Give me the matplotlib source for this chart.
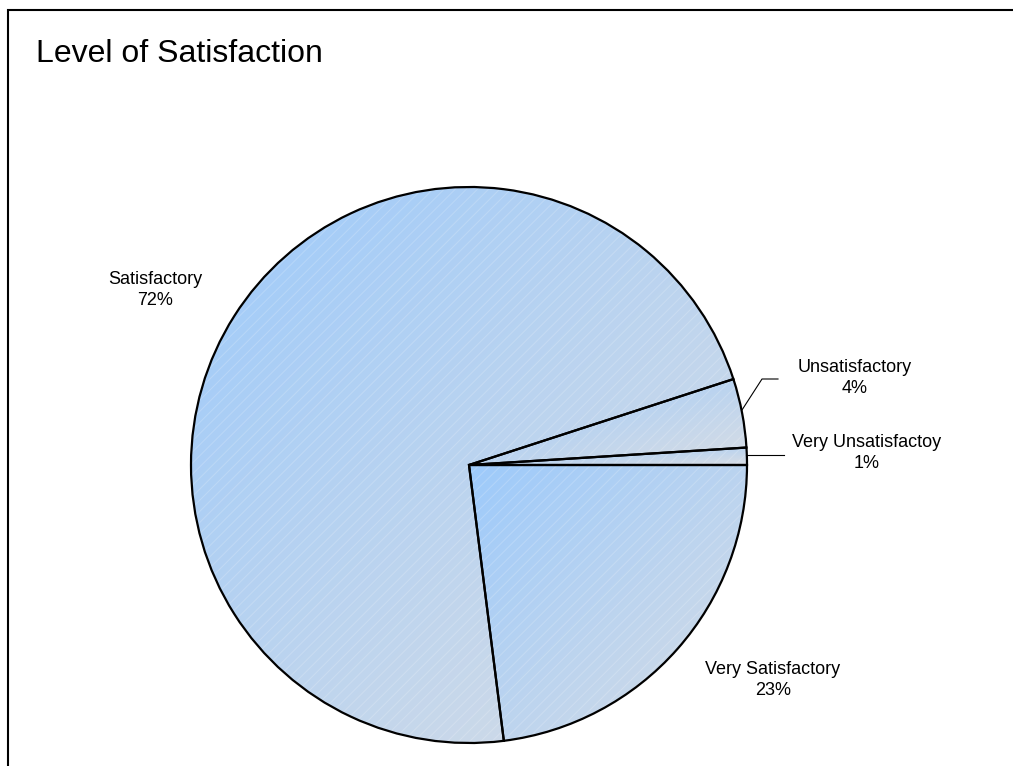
import numpy as np
import matplotlib
matplotlib.use("Agg")
import matplotlib.pyplot as plt
from matplotlib.colors import LinearSegmentedColormap
from matplotlib.patches import Rectangle

plt.rcParams['font.family'] = ['Liberation Sans', 'DejaVu Sans']
plt.rcParams['hatch.linewidth'] = 0.8

# data, counterclockwise from 3 o'clock
labels = ["Very Unsatisfactoy", "Unsatisfactory", "Satisfactory", "Very Satisfactory"]
values = [1, 4, 72, 23]
pct_text = ["1%", "4%", "72%", "23%"]

W, H = 1013, 766
fig = plt.figure(figsize=(W / 100, H / 100), dpi=100)
ax = fig.add_axes([0, 0, 1, 1])

cx, cy, r = 469, H - 465, 278
wedges, _ = ax.pie(values, startangle=0, counterclock=True, center=(cx, cy),
                   radius=r, frame=True,
                   wedgeprops=dict(facecolor="none", edgecolor="black", linewidth=1.6))

cmap = LinearSegmentedColormap.from_list("bg", ["#9dcafb", "#d8dde4"])
for w in wedges:
    th = np.radians(np.linspace(w.theta1, w.theta2, 100))
    xs = np.concatenate([[cx], cx + r * np.cos(th)])
    ys = np.concatenate([[cy], cy + r * np.sin(th)])
    x0, x1, y0, y1 = xs.min(), xs.max(), ys.min(), ys.max()
    gx, gy = np.meshgrid(np.linspace(0, 1, 200), np.linspace(0, 1, 200))
    grad = (gx + gy) / 2  # top-left blue -> bottom-right grey
    im = ax.imshow(grad, cmap=cmap, extent=(x0, x1, y0, y1), origin="upper",
                   zorder=0.5, aspect="auto", interpolation="bilinear")
    im.set_clip_path(w)
    w.set_zorder(2)
    # faint white diagonal stripes
    hp = plt.Polygon(np.column_stack([xs, ys]), closed=True, facecolor="none",
                     edgecolor="white", linewidth=0, hatch="///", alpha=0.18, zorder=1)
    ax.add_patch(hp)

# labels
lab_pos = [(867, 453), (855, 378), (155, 290), (773, 680)]
for lab, pc, (x, y) in zip(labels, pct_text, lab_pos):
    ax.text(x, H - y, lab + "\n" + pc, ha="center", va="center", fontsize=13,
            linespacing=1.35, zorder=3)

# leader lines
ax.plot([742, 762, 778], [H - 410, H - 379, H - 379], color="black", lw=0.8, zorder=3)
ax.plot([746, 784], [H - 455, H - 455], color="black", lw=0.8, zorder=3)

ax.set_xlim(0, W)
ax.set_ylim(0, H)
ax.set_aspect("auto")
ax.axis("off")

ax.text(36, H - 54, "Level of Satisfaction", fontsize=23, ha="left", va="center")

fig.patches.append(Rectangle((8 / W, -0.1), 1.2, (H - 10) / H + 0.1,
                             transform=fig.transFigure, fill=False,
                             edgecolor="black", linewidth=1.5))

fig.savefig("out.png", dpi=100)
